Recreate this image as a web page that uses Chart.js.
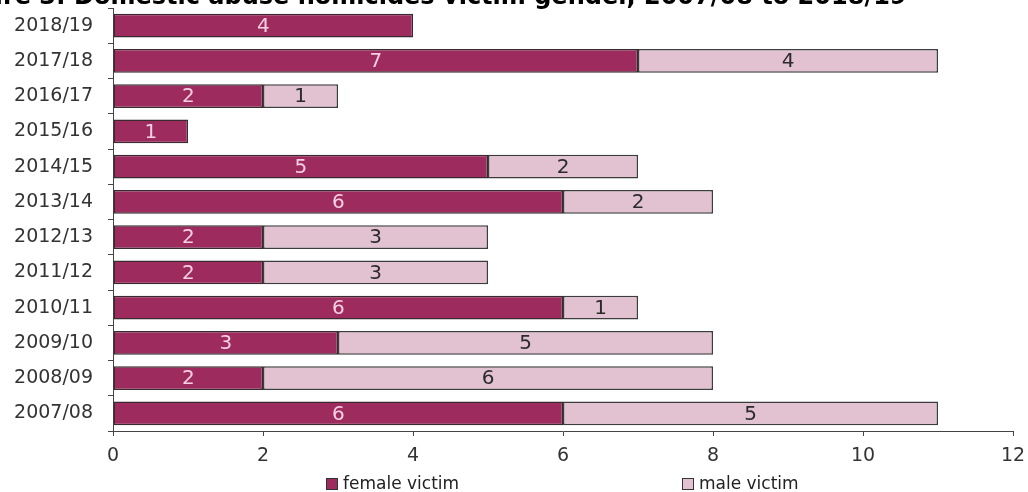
<!DOCTYPE html>
<html><head><meta charset="utf-8">
<script src="https://cdn.jsdelivr.net/npm/chart.js@4/dist/chart.umd.min.js"></script>
<style>
html,body{margin:0;padding:0;background:#fff;overflow:hidden;}
#wrap{position:relative;width:1028px;height:492px;overflow:hidden;background:#fff;}
#c{position:absolute;left:0;top:0;}
#title{position:absolute;left:-56px;top:-16px;font:bold 24px 'DejaVu Sans';line-height:24px;white-space:nowrap;color:#000;}
.lg{position:absolute;top:474px;font:17px 'DejaVu Sans';color:#222;line-height:18px;white-space:nowrap;}
.lg i{display:inline-block;width:10px;height:10px;border:1px solid #333;margin-right:5px;vertical-align:-1px;}
</style></head><body>
<div id="wrap">
<canvas id="c" width="1028" height="492"></canvas>
<div id="title">Figure 3: Domestic abuse homicides victim gender, 2007/08 to 2018/19</div>
<div id="legend"></div>
</div>
<script>
const categories = ['2018/19','2017/18','2016/17','2015/16','2014/15','2013/14','2012/13','2011/12','2010/11','2009/10','2008/09','2007/08'];
const femaleVictims = [4, 7, 2, 1, 5, 6, 2, 2, 6, 3, 2, 6];
const maleVictims = [null, 4, 1, null, 2, 2, 3, 3, 1, 5, 6, 5];
const seriesNames = ['female victim', 'male victim'];
const xMin = 0, xMax = 12, xStep = 2;

const FONT = 'DejaVu Sans';

const segmentLabels = {
  id: 'segmentLabels',
  afterDatasetsDraw(chart) {
    const ctx = chart.ctx;
    chart.data.datasets.forEach((ds, i) => {
      const meta = chart.getDatasetMeta(i);
      if (meta.hidden) return;
      meta.data.forEach((el, j) => {
        const v = ds.data[j];
        if (v == null || v === 0) return;
        const p = el.getProps(['x', 'y', 'base'], true);
        ctx.save();
        ctx.font = '20px "' + FONT + '"';
        ctx.fillStyle = ds.labelColor;
        ctx.textAlign = 'center';
        ctx.textBaseline = 'middle';
        ctx.fillText(String(v), (p.x + p.base) / 2, p.y + 1);
        ctx.restore();
      });
    });
  }
};

const chart = new Chart(document.getElementById('c'), {
  type: 'bar',
  data: {
    labels: categories,
    datasets: [
      { label: seriesNames[0], data: femaleVictims, backgroundColor: '#9d2b5e', borderColor: '#3a2a30', borderWidth: 1.5, borderSkipped: false, labelColor: '#f6cfe2' },
      { label: seriesNames[1], data: maleVictims, backgroundColor: '#e2c1d1', borderColor: '#3c3c3c', borderWidth: 1.5, borderSkipped: false, labelColor: '#2b2b2b' }
    ]
  },
  options: {
    indexAxis: 'y',
    responsive: false,
    animation: false,
    barPercentage: 0.68,
    categoryPercentage: 1,
    layout: { padding: { top: 8, right: 15, left: 0, bottom: 0 } },
    plugins: { legend: { display: false }, tooltip: { enabled: false }, title: { display: false } },
    scales: {
      x: {
        stacked: true, min: xMin, max: xMax,
        ticks: { stepSize: xStep, color: '#333', font: { family: FONT, size: 19 }, padding: 9 },
        grid: { drawOnChartArea: false, drawTicks: true, tickLength: 5, color: '#444' },
        border: { color: '#444', width: 1 },
        afterFit(s) { s.height = 61; s.paddingLeft = 0; s.paddingRight = 0; }
      },
      y: {
        stacked: true,
        ticks: { color: '#333', font: { family: FONT, size: 19 }, padding: 15 },
        grid: { offset: true, drawOnChartArea: false, drawTicks: true, tickLength: 5, color: '#444' },
        border: { color: '#444', width: 1 },
        afterFit(s) { s.width = 113; s.paddingTop = 0; s.paddingBottom = 0; }
      }
    }
  },
  plugins: [segmentLabels]
});

// HTML legend built from the chart's datasets
const legendLefts = [326, 682];
const lgRoot = document.getElementById('legend');
chart.data.datasets.forEach((ds, i) => {
  const d = document.createElement('div');
  d.className = 'lg';
  d.style.left = legendLefts[i] + 'px';
  const sw = document.createElement('i');
  sw.style.background = ds.backgroundColor;
  d.appendChild(sw);
  d.appendChild(document.createTextNode(ds.label));
  lgRoot.appendChild(d);
});
</script>
</body></html>
